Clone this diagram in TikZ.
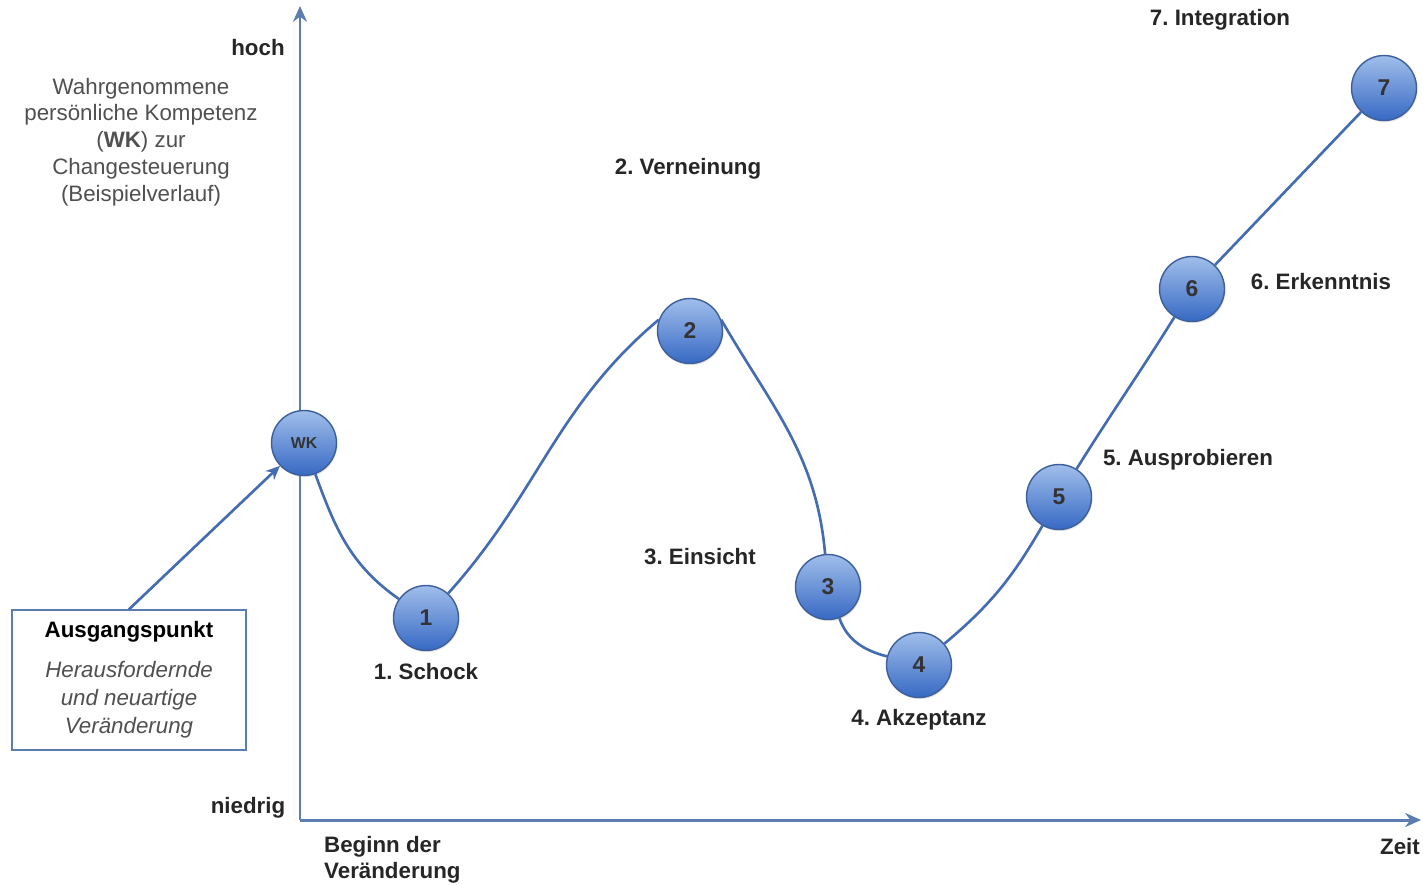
\documentclass[tikz,border=0pt]{standalone}
\usepackage{fontspec}
\setmainfont{Liberation Sans}
\usetikzlibrary{arrows.meta, positioning, shadows}
\definecolor{colorAxis}{RGB}{92, 125, 175}
\definecolor{colorCurve}{RGB}{68, 108, 178}
\definecolor{colorBallTop}{RGB}{160, 190, 235}
\definecolor{colorBallBot}{RGB}{55, 105, 195}
\definecolor{colorBallRim}{RGB}{60, 95, 155}
\definecolor{colorNote}{RGB}{80, 80, 80}

\begin{document}
\frenchspacing
\begin{tikzpicture}[
  x=0.02cm, y=-0.02cm,
  ball/.style={circle,draw=colorBallRim,line width=0.8pt,minimum size=1.3cm,
    top color=colorBallTop,bottom color=colorBallBot,inner sep=0pt,
    drop shadow={opacity=0.2,shadow xshift=0.5pt,shadow yshift=-1pt},
    font=\fontsize{13}{15}\selectfont\bfseries,text=black!80},
  phase/.style={font=\fontsize{12.7}{15}\selectfont\bfseries,text=black!85},
  note/.style={font=\fontsize{12.7}{15.3}\selectfont,text=colorNote,align=center},
  sbox/.style={draw=colorAxis,line width=0.8pt,fill=white,minimum width=4.68cm,
    minimum height=2.8cm,align=center,font=\fontsize{12.7}{15.9}\selectfont},
  axis/.style={-{Stealth[length=9pt,width=8pt]},line width=1.7pt,colorAxis},
  curve/.style={line width=1.5pt,colorCurve},
  arr/.style={-{Stealth[length=8pt,width=7pt]},line width=1.5pt,colorCurve},
]
\useasboundingbox (0,0) rectangle (1423,885);

% Axes
\coordinate (orig) at (300,820);
\coordinate (ytop) at (300,6);
\coordinate (xend) at (1421,820);
\draw[axis] (orig) -- (ytop);
\draw[axis] (orig) -- (xend);

% Axis labels
\node[phase] (hoch) at (258,48) {hoch};
\node[phase] (niedrig) at (248,808) {niedrig};
\node[phase] (zeit) at (1400,847) {Zeit};
\node[phase, anchor=west, align=left] (beginn) at (318,860) {Beginn der\\Veränderung};
\node[note] (ylab) at (141,142) {Wahrgenommene\\persönliche Kompetenz\\(\textbf{WK}) zur\\Changesteuerung\\(Beispielverlauf)};

% Phases
\node[ball, font=\fontsize{9}{10}\selectfont\bfseries] (wk) at (304,443) {WK};
\node[ball] (p1) at (426,618) {1};
\node[ball] (p2) at (690,331) {2};
\node[ball] (p3) at (828,587) {3};
\node[ball] (p4) at (919,665) {4};
\node[ball] (p5) at (1059,497) {5};
\node[ball] (p6) at (1192,289) {6};
\node[ball] (p7) at (1384,88) {7};

% Phase labels
\node[phase] (l1) at (426,672) {1. Schock};
\node[phase] (l2) at (688,169) {2. Verneinung};
\node[phase] (l3) at (700,557) {3. Einsicht};
\node[phase] (l4) at (919,720) {4. Akzeptanz};
\node[phase] (l5) at (1188,460) {5. Ausprobieren};
\node[phase] (l6) at (1321,282) {6. Erkenntnis};
\node[phase] (l7) at (1220,20) {7. Integration};

% Starting point
\node[sbox] (start) at (129,680) {\textbf{Ausgangspunkt}\\[7pt]
  \textcolor{colorNote}{\itshape Herausfordernde}\\
  \textcolor{colorNote}{\itshape und neuartige}\\
  \textcolor{colorNote}{\itshape Veränderung}};
\draw[arr] (start.north) -- (wk);

% Course of WK
\draw[curve] (wk) to[out=-70,in=145] (p1);
\draw[curve] (p1) to[out=48,in=220] (p2.160);
\draw[curve] (p2.20) to[out=-60,in=95] (p3);
\draw[curve] (p3) to[out=-70,in=165] (p4);
\draw[curve] (p4) to[out=40,in=-120] (p5);
\draw[curve] (p5) to[out=58,in=-122] (p6);
\draw[curve] (p6) -- (p7);

\end{tikzpicture}
\end{document}
